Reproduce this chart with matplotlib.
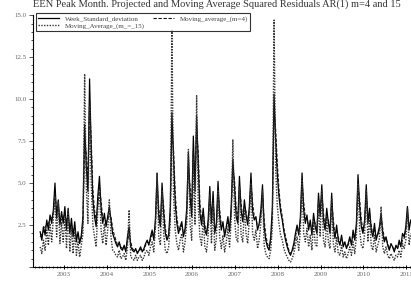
import matplotlib
matplotlib.use("Agg")
import matplotlib.pyplot as plt
from matplotlib.ticker import MultipleLocator, FixedLocator, FuncFormatter
import numpy as np

plt.rcParams['font.family'] = ['Liberation Serif', 'DejaVu Serif']

# biweekly observations starting mid 2002
start_year = 2002.45
per_year = 26

week_sd = [
    2.1, 1.6, 2.4, 1.9, 2.8, 2.2, 3.1, 2.6, 3.4, 5.0, 2.9, 4.0, 2.5, 3.3,
    2.6, 3.6, 2.2, 3.5, 2.0, 2.9, 1.8, 2.7, 1.5, 2.1, 1.4, 1.9,
    3.0, 8.5, 6.0, 4.5, 11.2, 7.0, 4.0, 3.0, 2.4, 4.2, 5.4, 3.5, 2.6, 3.2,
    2.4, 3.0, 3.6, 2.8, 2.0, 1.7, 1.4, 1.2, 1.5, 1.1, 1.0, 1.3, 0.9, 1.8, 2.4, 1.2, 1.0, 0.9, 1.1, 0.8, 1.0, 1.2, 0.9, 1.1, 1.4, 1.6,
    1.3, 1.8, 2.2, 1.6, 2.9, 5.6, 3.0, 2.4, 5.0, 3.2, 2.0, 1.6, 1.9, 3.5, 9.2, 6.5, 3.8, 2.6, 2.0, 2.4, 2.7, 1.8, 2.3, 3.5, 6.8, 4.2,
    3.0, 7.8, 4.5, 9.0, 6.0, 3.2, 2.5, 3.5, 2.2, 1.9, 2.8, 4.8, 2.6, 4.5, 2.0, 2.6, 5.1, 3.0, 2.2, 2.7, 1.8, 2.4, 3.0, 2.1, 3.6, 6.4,
    4.8, 3.0, 2.6, 5.4, 3.4, 2.7, 4.0, 3.1, 2.5, 3.6, 5.6, 3.3, 2.8, 3.0, 2.2, 2.6, 3.4, 4.9, 2.4, 1.6, 1.2, 1.0, 1.8, 3.6, 10.3, 7.5,
    5.5, 4.2, 3.3, 2.8, 2.1, 1.6, 1.2, 0.9, 0.7, 1.0, 1.4, 2.0, 2.5, 1.9, 3.0, 5.6, 3.4, 2.6, 3.1, 2.2, 2.8, 1.9, 3.2, 2.4, 2.0, 4.4,
    3.0, 4.9, 2.8, 2.2, 3.5, 2.6, 2.0, 4.4, 2.4, 1.7, 2.5, 1.6, 1.3, 1.9, 1.2, 1.5, 1.1, 1.4, 1.8, 1.3, 2.2, 1.6, 2.6, 5.5, 3.6, 2.4,
    2.0, 2.8, 4.9, 2.6, 3.5, 2.2, 1.8, 2.6, 1.6, 2.0, 2.4, 3.2, 2.0, 1.5, 1.8, 1.3, 1.0, 1.4, 1.2, 0.9, 1.3, 1.1, 1.6, 1.2, 2.0, 1.8, 2.4, 3.6, 2.2, 2.8,
]

ma4 = [
    1.8, 2.0, 2.1, 2.4, 2.5, 2.6, 2.8, 3.0, 3.2, 4.4, 3.4, 3.6, 2.9, 2.8,
    2.9, 3.2, 2.7, 3.0, 2.4, 2.5, 2.2, 2.3, 1.8, 1.8, 1.6, 1.7,
    2.6, 7.4, 6.8, 5.0, 9.8, 7.6, 4.6, 3.4, 2.8, 3.7, 4.8, 3.9, 2.9, 2.9,
    2.7, 2.8, 3.2, 3.0, 2.3, 1.9, 1.6, 1.3, 1.4, 1.2, 1.1, 1.2, 1.0, 1.5, 2.0, 1.5, 1.1, 1.0, 1.0, 0.9, 0.9, 1.1, 1.0, 1.0, 1.3, 1.5,
    1.4, 1.6, 2.0, 1.8, 2.5, 4.9, 3.5, 2.6, 4.4, 3.6, 2.3, 1.8, 1.8, 3.0, 8.1, 7.0, 4.4, 3.0, 2.2, 2.2, 2.5, 2.0, 2.1, 3.0, 6.0, 4.8,
    3.4, 6.9, 5.2, 8.2, 6.8, 3.8, 2.8, 3.2, 2.5, 2.0, 2.5, 4.2, 3.0, 4.0, 2.4, 2.4, 4.5, 3.4, 2.5, 2.5, 2.0, 2.2, 2.7, 2.3, 3.2, 5.8,
    5.2, 3.5, 2.8, 4.8, 3.8, 2.9, 3.6, 3.3, 2.7, 3.3, 5.0, 3.8, 3.0, 2.9, 2.4, 2.5, 3.1, 4.4, 2.8, 1.9, 1.4, 1.1, 1.6, 3.1, 9.4, 8.2,
    6.2, 4.6, 3.6, 3.0, 2.3, 1.8, 1.4, 1.0, 0.8, 0.9, 1.2, 1.8, 2.3, 2.1, 2.7, 5.0, 3.9, 2.9, 2.9, 2.4, 2.6, 2.1, 2.9, 2.6, 2.1, 3.9,
    3.3, 4.4, 3.2, 2.4, 3.1, 2.8, 2.2, 3.9, 2.8, 1.9, 2.2, 1.8, 1.4, 1.7, 1.4, 1.4, 1.2, 1.3, 1.6, 1.4, 1.9, 1.7, 2.3, 4.8, 4.0, 2.8,
    2.2, 2.6, 4.3, 3.0, 3.2, 2.5, 1.9, 2.3, 1.8, 1.9, 2.2, 2.9, 2.3, 1.7, 1.7, 1.4, 1.1, 1.3, 1.2, 1.0, 1.2, 1.1, 1.4, 1.3, 1.6, 1.7, 2.2, 3.2, 2.5, 2.5,
]

ma15 = [
    1.2, 0.8, 1.6, 1.0, 2.2, 1.3, 2.6, 1.5, 2.9, 4.2, 1.8, 3.9, 1.4, 2.7,
    1.5, 3.0, 1.1, 3.4, 0.9, 2.4, 0.8, 2.2, 0.7, 1.5, 0.6, 1.3,
    2.0, 11.5, 4.8, 2.6, 9.6, 5.0, 2.5, 1.8, 1.2, 3.4, 4.6, 2.2, 1.4, 2.6,
    1.3, 2.2, 4.0, 1.8, 1.0, 0.9, 0.7, 0.6, 1.0, 0.5, 0.6, 0.8, 0.4, 1.2, 3.4, 0.6, 0.5, 0.4, 0.7, 0.4, 0.6, 0.7, 0.4, 0.6, 0.9, 1.0,
    0.7, 1.2, 1.5, 0.9, 2.4, 5.6, 1.8, 1.3, 4.6, 2.0, 1.0, 0.8, 1.2, 2.6, 14.1, 4.2, 2.2, 1.4, 1.0, 1.6, 2.0, 0.9, 1.5, 2.6, 7.0, 2.6,
    1.6, 6.5, 2.5, 10.2, 3.6, 1.8, 1.3, 3.0, 1.2, 0.9, 1.9, 4.3, 1.4, 3.8, 1.0, 1.7, 4.6, 1.8, 1.1, 1.9, 0.9, 1.5, 2.3, 1.2, 2.8, 7.6,
    3.0, 1.7, 1.5, 4.8, 1.9, 1.5, 3.5, 2.0, 1.4, 2.8, 5.0, 2.0, 1.6, 2.2, 1.1, 1.6, 2.6, 4.6, 1.3, 0.8, 0.6, 0.5, 1.0, 2.4, 14.7, 5.8,
    3.6, 2.6, 1.9, 1.6, 1.1, 0.8, 0.6, 0.4, 0.3, 0.5, 0.8, 1.3, 1.8, 1.0, 2.2, 5.2, 2.0, 1.5, 2.3, 1.2, 1.9, 1.0, 2.6, 1.4, 1.2, 3.9,
    1.8, 4.6, 1.6, 1.2, 2.8, 1.5, 1.1, 4.1, 1.4, 0.9, 1.8, 0.8, 0.7, 1.3, 0.6, 0.9, 0.5, 0.8, 1.2, 0.7, 1.5, 0.8, 1.8, 5.0, 2.2, 1.3,
    1.1, 2.0, 4.6, 1.5, 3.0, 1.3, 1.0, 1.9, 0.9, 1.3, 1.7, 3.6, 1.2, 0.8, 1.2, 0.7, 0.5, 0.8, 0.6, 0.4, 0.7, 0.6, 1.0, 0.6, 1.4, 1.1, 1.6, 3.5, 1.3, 2.0,
]

years = [2003, 2004, 2005, 2006, 2007, 2008, 2009, 2010, 2011]

t = start_year + np.arange(len(week_sd)) / per_year

fig = plt.figure(figsize=(4.11, 2.85), dpi=100)
ax = fig.add_axes([0.080, 0.063, 0.945, 0.884])

l1, = ax.plot(t, week_sd, color="black", lw=0.9, ls="-")
l2, = ax.plot(t, ma4, color="#111111", lw=0.8, ls=(0, (3, 1.5)))
l3, = ax.plot(t, ma15, color="#333333", lw=1.0, ls=(0, (1, 1)))

ax.set_xlim(2002.28, 2011.35)
ax.set_ylim(0, 15)

for s in ["top", "right"]:
    ax.spines[s].set_visible(False)
ax.spines["left"].set_linewidth(0.8)
ax.spines["bottom"].set_linewidth(0.8)

ax.yaxis.set_major_locator(MultipleLocator(2.5))
ax.yaxis.set_minor_locator(MultipleLocator(0.5))
ax.yaxis.set_major_formatter(FuncFormatter(lambda v, p: "" if v == 0 else f"{v:.1f}"))
ax.xaxis.set_major_locator(FixedLocator(years))
ax.xaxis.set_minor_locator(MultipleLocator(1 / 12))
ax.set_xticklabels([str(y) for y in years])

ax.tick_params(axis="y", which="major", direction="out", length=3, width=0.7, labelsize=5, pad=1.5, colors="#555555", labelcolor="#666666")
ax.tick_params(axis="y", which="minor", direction="out", length=1.5, width=0.5)
ax.tick_params(axis="x", which="major", direction="inout", length=3, width=0.7, labelsize=5, pad=2, labelcolor="#666666")
ax.tick_params(axis="x", which="minor", direction="inout", length=2, width=0.5)

ax.set_title("EEN Peak Month. Projected and Moving Average Squared Residuals AR(1) m=4 and 15",
             fontsize=7.5, loc="left", x=0.0, y=1.035, pad=0, color="#333333")

leg = ax.legend([l1, l3, l2],
                ["Week_Standard_deviation", "Moving_Average_(m_=_15)", "Moving_average_(m=4)"],
                ncol=2, loc="upper left", bbox_to_anchor=(36 / 411, 1 - 13 / 285),
                bbox_transform=fig.transFigure, fontsize=5, frameon=True, fancybox=False,
                edgecolor="black", handlelength=3, handletextpad=0.8, columnspacing=1.2,
                borderpad=0.35, labelspacing=0.15, borderaxespad=0)
leg.get_frame().set_linewidth(0.8)
for txt in leg.get_texts():
    txt.set_color("#444444")

fig.savefig("out.png", dpi=100)
